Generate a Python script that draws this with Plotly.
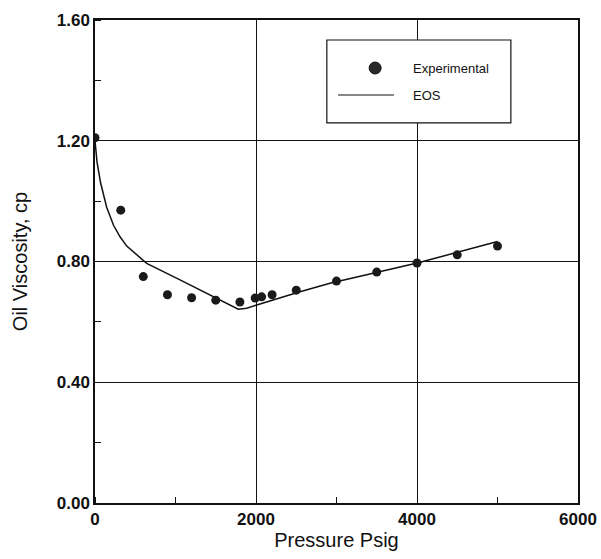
import plotly.graph_objects as go

# Experimental oil viscosity vs pressure
exp_pressure = [0, 320, 600, 900, 1200, 1500, 1800, 1990, 2070, 2200, 2500, 3000, 3500, 4000, 4500, 5000]
exp_viscosity = [1.21, 0.97, 0.75, 0.69, 0.68, 0.672, 0.666, 0.679, 0.683, 0.69, 0.705, 0.735, 0.765, 0.795, 0.822, 0.851]

# Equation-of-state prediction
eos_pressure = [0, 25, 70, 145, 230, 311, 394, 642, 1056, 1466, 1780, 1884, 2009, 2547, 2919, 4016, 5000]
eos_viscosity = [1.20, 1.13, 1.06, 0.98, 0.92, 0.882, 0.851, 0.794, 0.739, 0.683, 0.642, 0.645, 0.656, 0.700, 0.728, 0.796, 0.866]

x_ticks = [0, 2000, 4000, 6000]
y_ticks = [0.0, 0.4, 0.8, 1.2, 1.6]
y_tick_labels = ["0.00", "0.40", "0.80", "1.20", "1.60"]

fig = go.Figure()

fig.add_trace(go.Scatter(
    x=eos_pressure, y=eos_viscosity, mode="lines", name="EOS",
    line=dict(color="#111111", width=1.5), showlegend=False,
))
fig.add_trace(go.Scatter(
    x=exp_pressure, y=exp_viscosity, mode="markers", name="Experimental",
    marker=dict(color="#1a1a1a", size=9, line=dict(width=0)), showlegend=False,
))

tick_font = dict(family="Liberation Sans", size=17, color="#111111", weight="bold")
title_font = dict(family="Liberation Sans", size=20, color="#111111")

fig.update_xaxes(
    range=[0, 6000], tickvals=x_ticks, ticktext=[str(v) for v in x_ticks],
    tickfont=tick_font, ticks="", showgrid=True, gridcolor="#111111", gridwidth=1,
    showline=True, linecolor="#111111", linewidth=1.5, mirror=True, zeroline=False,
    minor=dict(ticks="inside", dtick=1000, ticklen=6, tickcolor="#111111", showgrid=False),
    title=dict(text="Pressure Psig", font=title_font, standoff=0),
    automargin=False,
)
fig.update_yaxes(
    range=[0, 1.6], tickvals=y_ticks, ticktext=y_tick_labels,
    tickfont=tick_font, ticks="", showgrid=True, gridcolor="#111111", gridwidth=1,
    showline=True, linecolor="#111111", linewidth=1.5, mirror=True, zeroline=False,
    minor=dict(ticks="inside", dtick=0.2, ticklen=6, tickcolor="#111111", showgrid=False),
    title=dict(text="Oil Viscosity, cp", font=title_font, standoff=24),
    automargin=False,
)

# Key box with symbol samples
shapes = [
    dict(type="rect", xref="paper", yref="paper", x0=0.480, x1=0.861, y0=0.787, y1=0.9586,
         line=dict(color="#111111", width=1.2), fillcolor="white", layer="above"),
    dict(type="circle", xref="paper", yref="paper", xsizemode="pixel", ysizemode="pixel",
         xanchor=0.580, yanchor=0.9006, x0=-6, x1=6, y0=-6, y1=6,
         line=dict(color="#111111", width=1), fillcolor="#2a2a2a", layer="above"),
    dict(type="line", xref="paper", yref="paper", x0=0.503, x1=0.619, y0=0.8447, y1=0.8447,
         line=dict(color="#111111", width=1.2), layer="above"),
]
annotations = [
    dict(text="Experimental", xref="paper", yref="paper", x=0.654, y=0.9006,
         xanchor="left", yanchor="middle", showarrow=False,
         font=dict(family="Liberation Sans", size=13, color="#111111")),
    dict(text="EOS", xref="paper", yref="paper", x=0.654, y=0.8447,
         xanchor="left", yanchor="middle", showarrow=False,
         font=dict(family="Liberation Sans", size=13, color="#111111")),
]

fig.update_layout(
    width=601, height=559,
    margin=dict(l=95, r=23, t=20, b=56),
    paper_bgcolor="white", plot_bgcolor="white",
    shapes=shapes, annotations=annotations,
    font=dict(family="Liberation Sans", color="#111111"),
)

fig.write_html("out.html")
